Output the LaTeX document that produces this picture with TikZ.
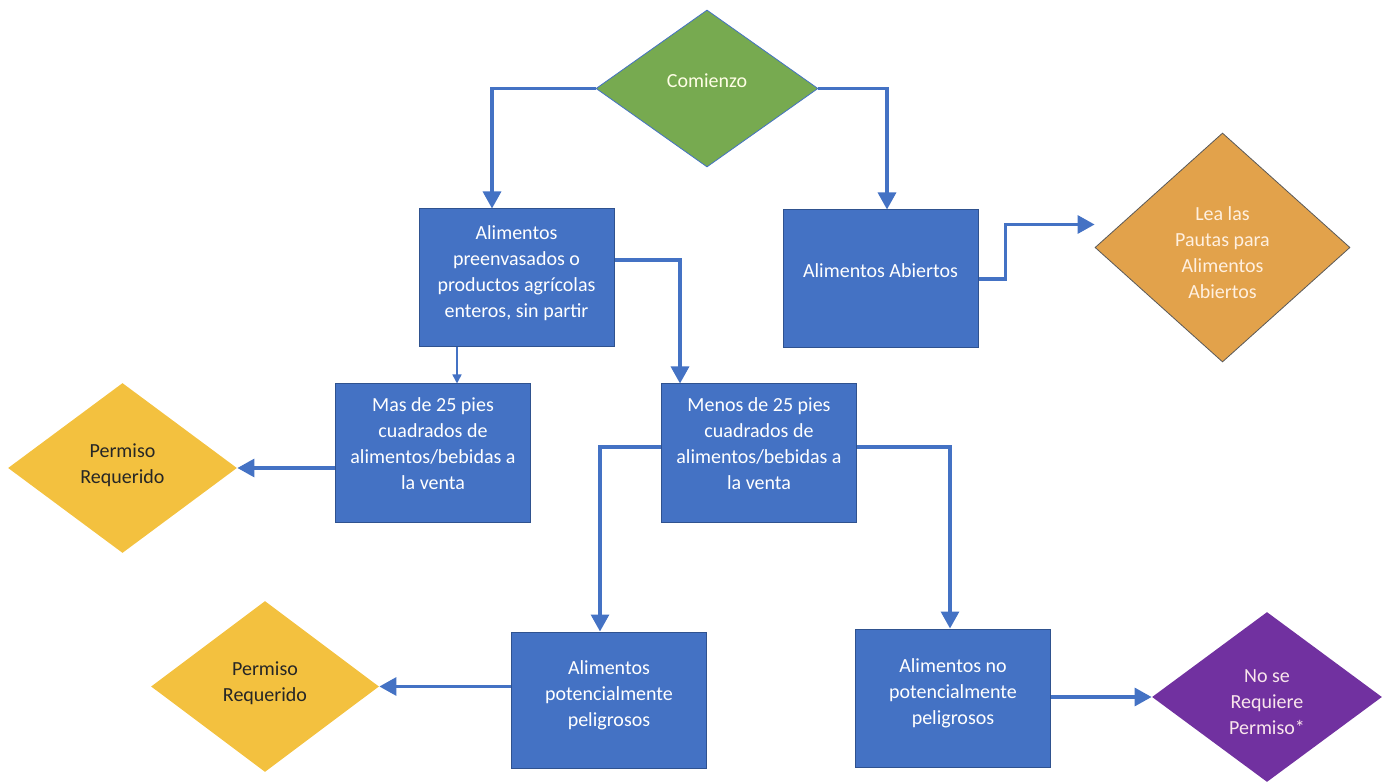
\documentclass[tikz,border=0pt]{standalone}
\usepackage{fontspec}
\setmainfont{Carlito}
\usetikzlibrary{shapes.geometric,arrows.meta}
\definecolor{boxblue}{HTML}{4472C4}
\definecolor{boxedge}{HTML}{2F528F}
\definecolor{startgreen}{HTML}{77AA50}
\definecolor{leaorange}{HTML}{E2A24B}
\definecolor{permyellow}{HTML}{F3C13F}
\definecolor{nopurple}{HTML}{7131A0}
\newcommand{\liftlines}[2]{\raisebox{#1}[\height][\depth]{\begin{tabular}{@{}c@{}}#2\end{tabular}}}
\begin{document}
\begin{tikzpicture}[x=1pt,y=-1pt,
  every node/.style={font=\fontsize{20}{26}\selectfont, align=center},
  box/.style={rectangle, draw=boxedge, line width=1pt, fill=boxblue, text=white, minimum width=195pt, minimum height=138pt, inner sep=0pt},
  dia/.style={diamond, inner sep=0pt, line width=0.8pt},
  conn/.style={draw=boxblue, line width=3.2pt, -{Triangle[length=17pt,width=18pt]}},
  thinconn/.style={draw=boxblue, line width=1.5pt, -{Triangle[length=9pt,width=9pt]}}
]
\useasboundingbox (0,0) rectangle (1390,783);
% diamonds
\node[dia, fill=startgreen, draw=boxblue, text=white!90!yellow, minimum width=222pt, minimum height=157pt] (start) at (707,88.5) {\liftlines{6pt}{Comienzo}};
\node[dia, fill=leaorange, draw=black!65, text=white!88!orange, minimum width=255pt, minimum height=229pt] (lea) at (1222.5,247.5) {\liftlines{-7pt}{Lea las\\Pautas para\\Alimentos\\Abiertos}};
\node[dia, fill=permyellow, text=black!85, minimum width=229pt, minimum height=170pt] (p1) at (122.5,468) {\liftlines{3pt}{Permiso\\Requerido}};
\node[dia, fill=permyellow, text=black!85, minimum width=228pt, minimum height=171pt] (p2) at (265,686.5) {\liftlines{3pt}{Permiso\\Requerido}};
\node[dia, fill=nopurple, text=white!90!purple, minimum width=230pt, minimum height=170pt] (ns) at (1267,697) {\liftlines{-6pt}{No se\\Requiere\\Permiso*}};
% boxes
\node[box] (b1) at (516.5,278) {\liftlines{5pt}{Alimentos\\preenvasados o\\productos agrícolas\\enteros, sin partir}};
\node[box] (ab) at (880.5,279) {\liftlines{7pt}{Alimentos Abiertos}};
\node[box] (mas) at (433,453) {\liftlines{8pt}{Mas de 25 pies\\cuadrados de\\alimentos/bebidas a\\la venta}};
\node[box] (menos) at (759,453) {\liftlines{8pt}{Menos de 25 pies\\cuadrados de\\alimentos/bebidas a\\la venta}};
\node[box, minimum height=136pt] (pot) at (609,700) {\liftlines{5pt}{Alimentos\\potencialmente\\peligrosos}};
\node[box] (nopot) at (953,698) {\liftlines{5pt}{Alimentos no\\potencialmente\\peligrosos}};
% connectors
\draw[conn] (start.west) -| ([xshift=-24.5pt]b1.north);
\draw[conn] (start.east) -| ([xshift=6.5pt]ab.north);
\draw[conn] (ab.east) -- ++(27,0) |- ([yshift=23pt]lea.west);
\draw[conn] ([yshift=18pt]b1.east) -| ([xshift=-79pt]menos.north);
\coordinate (m1) at ([xshift=24pt]mas.north);
\draw[thinconn] (m1 |- b1.south) -- (m1);
\draw[conn] (mas.west |- p1.east) -- (p1.east);
\draw[conn] ([yshift=6pt]menos.west) -| ([xshift=-9pt]pot.north);
\draw[conn] ([yshift=6pt]menos.east) -| ([xshift=-3pt]nopot.north);
\draw[conn] (pot.west |- p2.east) -- (p2.east);
\draw[conn] (nopot.east |- ns.west) -- (ns.west);
\end{tikzpicture}
\end{document}
